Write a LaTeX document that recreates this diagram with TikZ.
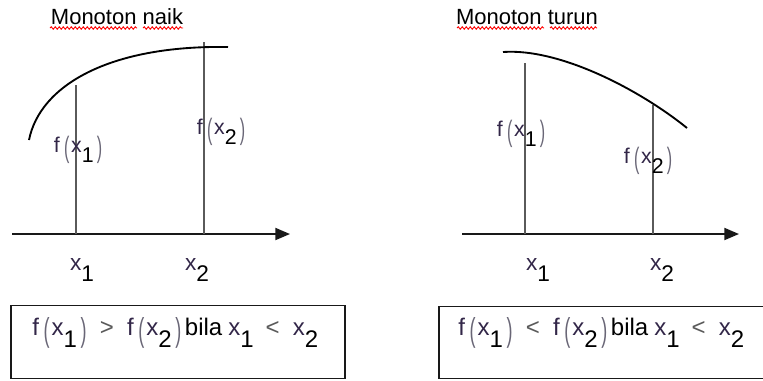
\documentclass[tikz,border=0pt]{standalone}
\usepackage{fontspec}
\usepackage{graphicx}
\setmainfont{Liberation Sans}
\usetikzlibrary{arrows.meta,decorations.pathmorphing}
\definecolor{fcol}{RGB}{50,38,72}
\definecolor{pcol}{RGB}{105,102,118}
\definecolor{vcol}{RGB}{90,90,90}
\definecolor{axcol}{RGB}{25,25,25}
\newcommand{\pL}{\raisebox{-0.25em}{\color{pcol}\scalebox{0.75}[1.38]{(}}}
\newcommand{\pR}{\raisebox{-0.25em}{\color{pcol}\scalebox{0.75}[1.38]{)}}}
\newcommand{\sbs}[1]{\raisebox{-0.5em}{#1}}
\newcommand{\fx}[1]{{\color{fcol}f}\kern0.2em\pL\kern0.08em{\color{fcol}x}\sbs{#1}\kern0.15em\pR}
\newcommand{\xs}[1]{{\color{fcol}x}\sbs{#1}}
\tikzset{
  vline/.style={draw=vcol, line width=0.8pt},
  axisline/.style={draw=axcol, line width=1.4pt, -{Triangle[length=11pt,width=9pt]}},
  curveline/.style={draw=black, line width=1.4pt},
  flabel/.style={font=\fontsize{16pt}{19pt}\selectfont, inner sep=0pt},
  xlabel/.style={font=\fontsize{17pt}{20pt}\selectfont, inner sep=0pt},
  titletxt/.style={font=\fontsize{16.5pt}{19pt}\selectfont, inner sep=0pt},
  boxtxt/.style={font=\fontsize{18pt}{21pt}\selectfont, inner sep=0pt},
  framebox/.style={draw=axcol, line width=1.2pt},
  squiggle/.style={draw=red, line width=0.7pt, decorate, decoration={snake, amplitude=0.9pt, segment length=3pt}}
}
\begin{document}
\begin{tikzpicture}[x=0.75pt,y=-0.75pt]
\useasboundingbox (0,0) rectangle (763,380);
\clip (0,0) rectangle (763,380);
% ---------- left graph ----------
\node[titletxt] (t1) at (117,17) {Monoton naik};
\draw[squiggle] (50,28) -- (137,28);
\draw[squiggle] (143,28) -- (183,28);
\coordinate (a1s) at (12,234);
\coordinate (a1e) at (290,234);
\draw[axisline] (a1s) -- (a1e);
\coordinate (l1b) at (76,234); \coordinate (l1t) at (76,85);
\coordinate (l2b) at (204,234); \coordinate (l2t) at (204,42);
\draw[vline] (l1b) -- (l1t);
\draw[vline] (l2b) -- (l2t);
\draw[curveline] (29,140) .. controls (40,85) and (110,45) .. (228,47);
\node[flabel] (fa1) at (78,150) {\fx{1}};
\node[flabel] (fa2) at (221,132) {\fx{2}};
\node[xlabel] (xa1) at (82,270) {\xs{1}};
\node[xlabel] (xa2) at (197,270) {\xs{2}};
\draw[framebox] (11,305.5) rectangle (345,378.5);
\node[boxtxt, anchor=base west] (b1) at (32,335) {\fx{1}\hspace{0.55em}{\color{vcol}>}\hspace{0.55em}\fx{2}\hspace{0.15em}bila\hspace{0.25em}\xs{1}\hspace{0.5em}{\color{vcol}<}\hspace{0.55em}\xs{2}};
% ---------- right graph ----------
\node[titletxt] (t2) at (527,17) {Monoton turun};
\draw[squiggle] (457,28) -- (544,28);
\draw[squiggle] (550,28) -- (597,28);
\coordinate (a2s) at (462,234);
\coordinate (a2e) at (739,234);
\draw[axisline] (a2s) -- (a2e);
\coordinate (r1b) at (525,234); \coordinate (r1t) at (525,63);
\coordinate (r2b) at (653,234); \coordinate (r2t) at (653,105);
\draw[vline] (r1b) -- (r1t);
\draw[vline] (r2b) -- (r2t);
\draw[curveline] (503,52) .. controls (560,48) and (640,90) .. (687,128);
\node[flabel] (fb1) at (521,134) {\fx{1}};
\node[flabel] (fb2) at (648,161) {\fx{2}};
\node[xlabel] (xb1) at (538,270) {\xs{1}};
\node[xlabel] (xb2) at (662,270) {\xs{2}};
\draw[framebox] (439,306.5) rectangle (800,378.5);
\node[boxtxt, anchor=base west] (b2) at (458,335) {\fx{1}\hspace{0.55em}{\color{vcol}<}\hspace{0.55em}\fx{2}\hspace{0.15em}bila\hspace{0.25em}\xs{1}\hspace{0.5em}{\color{vcol}<}\hspace{0.55em}\xs{2}};
\end{tikzpicture}
\end{document}
